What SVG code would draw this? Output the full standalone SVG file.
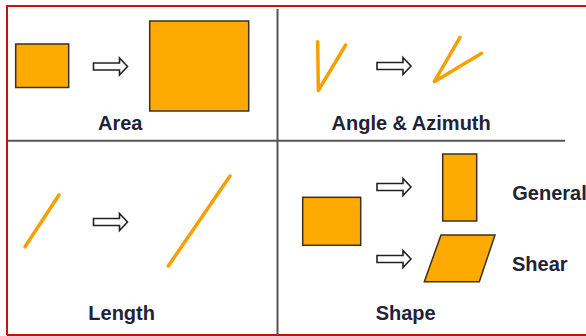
<svg xmlns="http://www.w3.org/2000/svg" width="586" height="336" viewBox="0 0 586 336">
<defs>
<style>
.box{fill:#FFAA00;stroke:#3a3020;stroke-width:1.5}
.ln{fill:none;stroke:#F5A000;stroke-width:3.5;stroke-linecap:round;stroke-linejoin:round}
.div{stroke:#555;stroke-width:2}
.lbl{font-family:"Liberation Sans",Arial,sans-serif;font-weight:bold;font-size:20px;fill:#222236}
.arr{fill:#fff;stroke:#222;stroke-width:1.6;stroke-linejoin:miter}
</style>
<path id="arrow" class="arr" d="M0,-3.5 H26 V-8.5 L34,0 L26,8.5 V3.5 H0 Z"/>
</defs>
<rect x="0" y="0" width="586" height="336" fill="#fff"/>
<g id="frame">
<path d="M7,335 V6 H586" fill="none" stroke="#C81010" stroke-width="2"/>
<line x1="7" y1="335" x2="586" y2="335" stroke="#C81010" stroke-width="2"/>
</g>
<g id="dividers">
<line class="div" x1="277.5" y1="9" x2="277.5" y2="335"/>
<line class="div" x1="8" y1="140.7" x2="565" y2="140.7"/>
</g>
<g id="connectors">
<use href="#arrow" x="93.5" y="66.5"/>
<use href="#arrow" x="377" y="66"/>
<use href="#arrow" x="93.5" y="222"/>
<use href="#arrow" x="377" y="187"/>
<use href="#arrow" x="377" y="259"/>
</g>
<g id="area">
<rect class="box" x="15.7" y="44" width="53" height="43.5"/>
<rect class="box" x="149.7" y="21" width="99" height="90"/>
<text class="lbl" x="98" y="130">Area</text>
</g>
<g id="angle">
<polyline class="ln" points="317.7,41.7 318.3,90.5 345.7,45"/>
<polyline class="ln" points="460,37.3 434.3,81.7 481.7,53.3"/>
<text class="lbl" x="331.5" y="130">Angle &amp; Azimuth</text>
</g>
<g id="length">
<line class="ln" x1="25" y1="246.7" x2="59" y2="195"/>
<line class="ln" x1="168.3" y1="266" x2="230" y2="176"/>
<text class="lbl" x="88.3" y="320">Length</text>
</g>
<g id="shape">
<rect class="box" x="302.7" y="197.3" width="58" height="48"/>
<rect class="box" x="442.7" y="154" width="34" height="67"/>
<polygon class="box" points="441,235 495,235 479.3,281.7 424.3,281.7"/>
<text class="lbl" x="512.3" y="200">General</text>
<text class="lbl" x="512" y="270.5">Shear</text>
<text class="lbl" x="375.7" y="320">Shape</text>
</g>
</svg>
